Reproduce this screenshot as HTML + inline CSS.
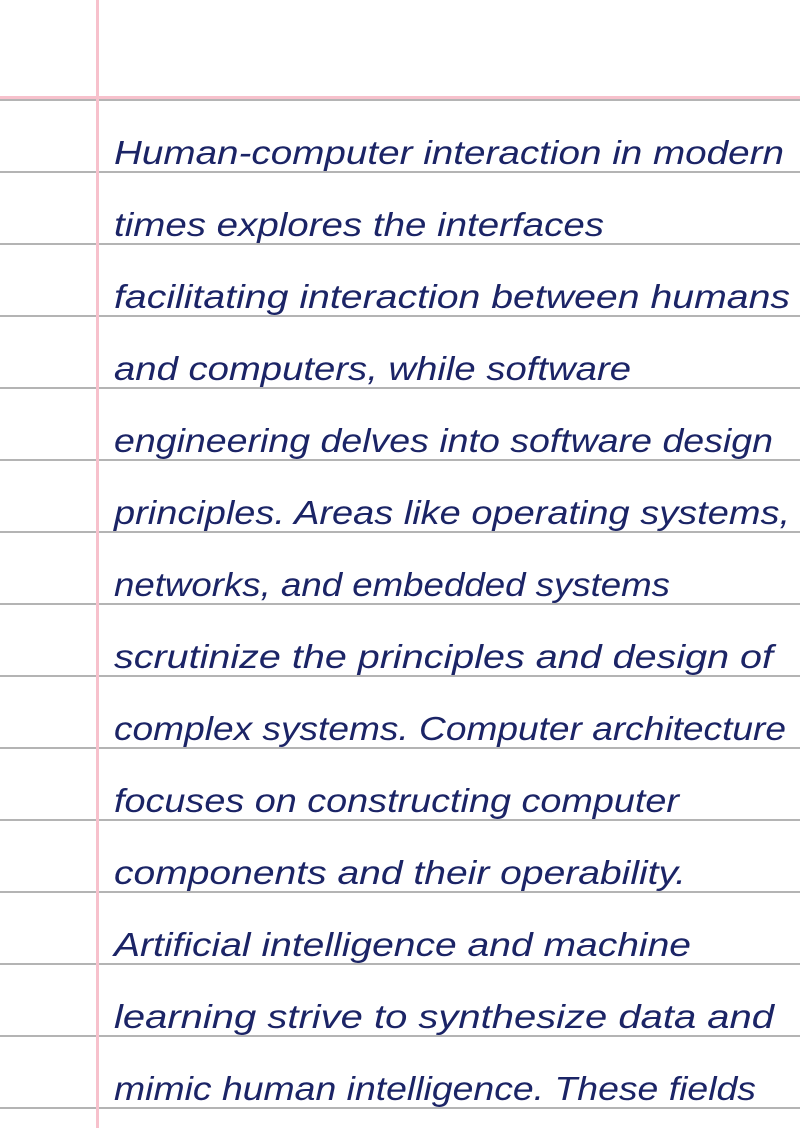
<!DOCTYPE html>
<html><head><meta charset="utf-8"><style>
html,body{margin:0;padding:0;background:#fff;width:800px;height:1128px;overflow:hidden}
</style></head><body>
<svg width="800" height="1128" xmlns="http://www.w3.org/2000/svg">
<rect width="800" height="1128" fill="#fff"/>
<g stroke="#b4b4b4" stroke-width="2">
<line x1="0" y1="100" x2="800" y2="100"/>
<line x1="0" y1="172" x2="800" y2="172"/>
<line x1="0" y1="244" x2="800" y2="244"/>
<line x1="0" y1="316" x2="800" y2="316"/>
<line x1="0" y1="388" x2="800" y2="388"/>
<line x1="0" y1="460" x2="800" y2="460"/>
<line x1="0" y1="532" x2="800" y2="532"/>
<line x1="0" y1="604" x2="800" y2="604"/>
<line x1="0" y1="676" x2="800" y2="676"/>
<line x1="0" y1="748" x2="800" y2="748"/>
<line x1="0" y1="820" x2="800" y2="820"/>
<line x1="0" y1="892" x2="800" y2="892"/>
<line x1="0" y1="964" x2="800" y2="964"/>
<line x1="0" y1="1036" x2="800" y2="1036"/>
<line x1="0" y1="1108" x2="800" y2="1108"/>
</g>
<line x1="0" y1="97.5" x2="800" y2="97.5" stroke="#f7c1cc" stroke-width="3"/>
<line x1="97.5" y1="0" x2="97.5" y2="1128" stroke="#f7c1cc" stroke-width="3"/>
<g font-family="Liberation Sans, sans-serif" font-style="italic" font-size="33" fill="#1b2466" lengthAdjust="spacingAndGlyphs">
<text x="114" y="164" textLength="670" lengthAdjust="spacingAndGlyphs">Human-computer interaction in modern</text>
<text x="114" y="236" textLength="490" lengthAdjust="spacingAndGlyphs">times explores the interfaces</text>
<text x="114" y="308" textLength="676" lengthAdjust="spacingAndGlyphs">facilitating interaction between humans</text>
<text x="114" y="380" textLength="517" lengthAdjust="spacingAndGlyphs">and computers, while software</text>
<text x="114" y="452" textLength="659" lengthAdjust="spacingAndGlyphs">engineering delves into software design</text>
<text x="114" y="524" textLength="676" lengthAdjust="spacingAndGlyphs">principles. Areas like operating systems,</text>
<text x="114" y="596" textLength="556" lengthAdjust="spacingAndGlyphs">networks, and embedded systems</text>
<text x="114" y="668" textLength="659" lengthAdjust="spacingAndGlyphs">scrutinize the principles and design of</text>
<text x="114" y="740" textLength="672" lengthAdjust="spacingAndGlyphs">complex systems. Computer architecture</text>
<text x="114" y="812" textLength="565" lengthAdjust="spacingAndGlyphs">focuses on constructing computer</text>
<text x="114" y="884" textLength="572" lengthAdjust="spacingAndGlyphs">components and their operability.</text>
<text x="114" y="956" textLength="577" lengthAdjust="spacingAndGlyphs">Artificial intelligence and machine</text>
<text x="114" y="1028" textLength="660" lengthAdjust="spacingAndGlyphs">learning strive to synthesize data and</text>
<text x="114" y="1100" textLength="642" lengthAdjust="spacingAndGlyphs">mimic human intelligence. These fields</text>
</g>
</svg>
</body></html>
